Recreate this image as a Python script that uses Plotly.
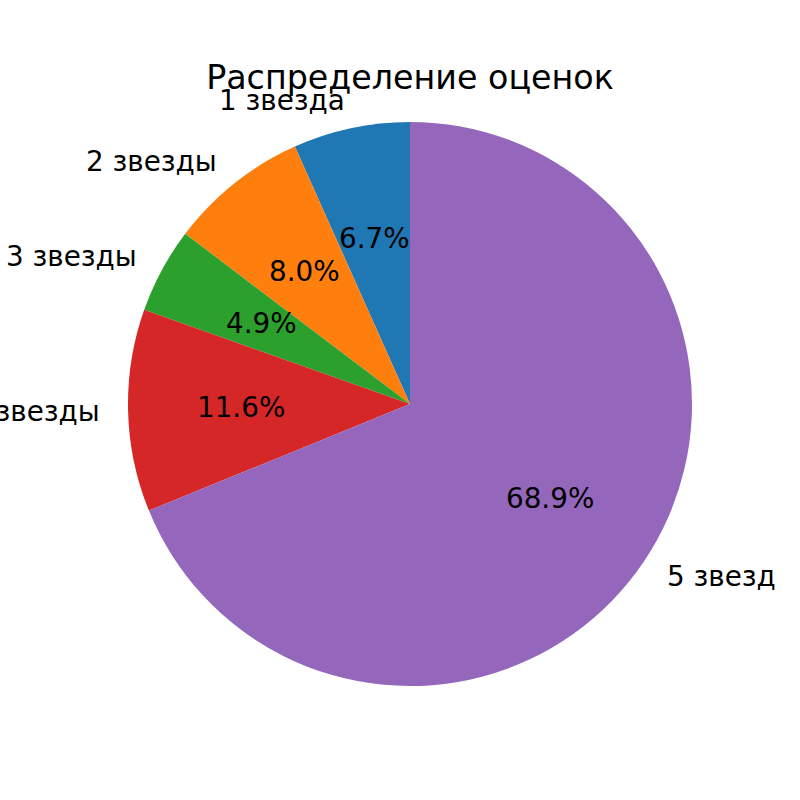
import math
import plotly.graph_objects as go

labels = ["1 звезда", "2 звезды", "3 звезды", "4 звезды", "5 звезд"]
values = [6.7, 8.0, 4.9, 11.6, 68.9]
colors = ["#1f77b4", "#ff7f0e", "#2ca02c", "#d62728", "#9467bd"]
title = "Распределение оценок"

W = H = 800
cx, cy, r = 410, 404, 282  # pie centre / radius in pixels

total = sum(values)
fig = go.Figure(go.Pie(
    labels=labels, values=values, sort=False, direction="counterclockwise",
    rotation=-values[0] / total * 360, marker=dict(colors=colors, line=dict(width=0)),
    textinfo="none", hoverinfo="label+percent", showlegend=False,
    domain=dict(x=[(cx - r) / W, (cx + r) / W], y=[1 - (cy + r) / H, 1 - (cy - r) / H]),
))

font = dict(family="DejaVu Sans", size=27.8, color="black")
cum = 0.0
for lab, v in zip(labels, values):
    mid = math.radians(90 + (cum + v / 2) / total * 360)
    cum += v
    c, s = math.cos(mid), math.sin(mid)
    # outer label at 1.1 r
    lx, ly = cx + 1.1 * r * c, cy - 1.1 * r * s
    fig.add_annotation(x=lx / W, y=1 - ly / H, xref="paper", yref="paper",
                       text=lab, showarrow=False, font=font, borderpad=0, borderwidth=0,
                       xanchor="left" if c > 0 else "right", yanchor="middle")
    # percentage at 0.6 r
    px, py = cx + 0.6 * r * c, cy - 0.6 * r * s
    fig.add_annotation(x=px / W, y=1 - py / H, xref="paper", yref="paper",
                       text=f"{v:.1f}%", showarrow=False, font=font, borderpad=0, borderwidth=0,
                       xanchor="center", yanchor="middle")

fig.update_layout(
    width=W, height=H, margin=dict(l=0, r=0, t=0, b=0),
    paper_bgcolor="white", plot_bgcolor="white",
    title=dict(text=title, x=cx / W, xanchor="center", y=1 - 77 / H, yanchor="middle",
               font=dict(family="DejaVu Sans", size=33.3, color="black")),
)

fig.write_html("out.html", config={"displayModeBar": False},
               post_script="document.body.style.margin='0';")
